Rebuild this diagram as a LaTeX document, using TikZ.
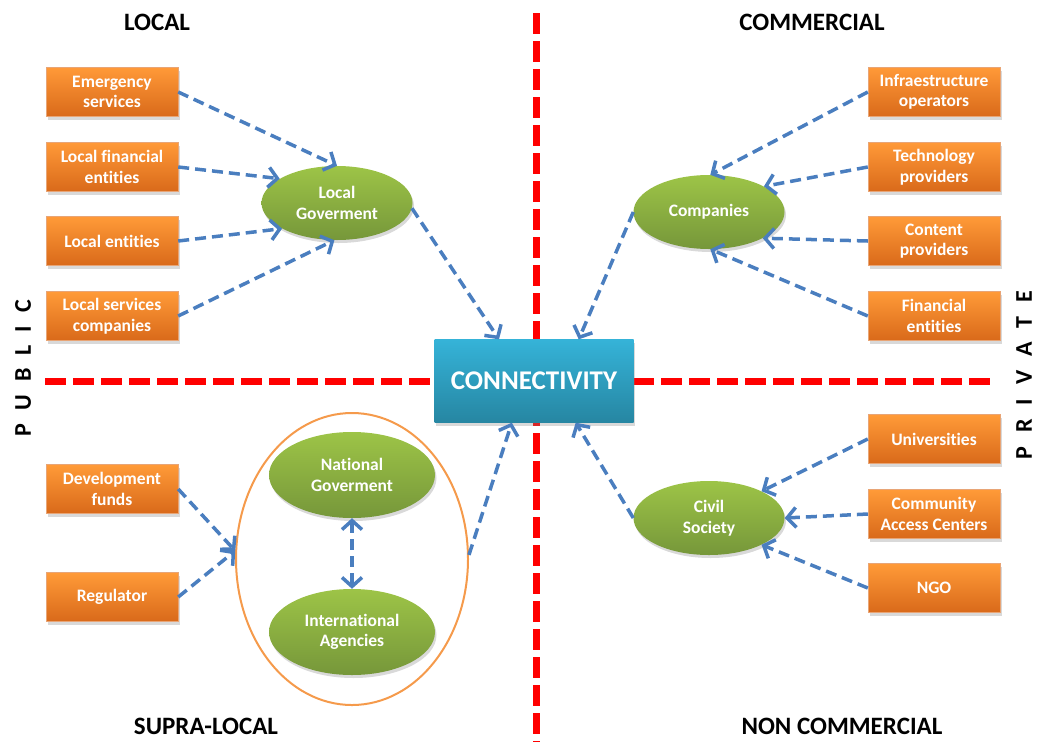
\documentclass[tikz,border=0pt]{standalone}
\usepackage{fontspec}
\setmainfont{Carlito}[Ligatures=NoCommon]
\usepackage{tikz}
\usetikzlibrary{shapes.geometric,arrows.meta,shadows}
\definecolor{orTop}{HTML}{FF9A38}
\definecolor{orBot}{HTML}{D9691A}
\definecolor{grTop}{HTML}{9DC447}
\definecolor{grBot}{HTML}{76973A}
\definecolor{cyTop}{HTML}{35B3D8}
\definecolor{cyBot}{HTML}{2686A2}
\definecolor{linkblue}{HTML}{4A7EBF}
\definecolor{ringorange}{HTML}{F59A4B}

\begin{document}
\begin{tikzpicture}[x=1pt,y=-1pt]
	\tikzstyle{actor} = [rectangle, minimum width=132pt, minimum height=49pt, inner sep=0pt, align=center, text=white, font=\fontsize{17.5}{20.5}\selectfont\bfseries, top color=orTop, bottom color=orBot, draw=orBot!60, line width=0.4pt, drop shadow={shadow xshift=1.5pt, shadow yshift=-3pt, opacity=0.3}]
	\tikzstyle{hub} = [ellipse, minimum width=151pt, minimum height=74pt, inner sep=0pt, align=center, text=white, font=\fontsize{17.5}{20.5}\selectfont\bfseries, top color=grTop, bottom color=grBot, drop shadow={shadow xshift=1.5pt, shadow yshift=-3pt, opacity=0.3}]
	\tikzstyle{link} = [draw=linkblue, line width=3.5pt, dash pattern=on 11pt off 6pt, -{Straight Barb[length=9pt,width=20pt]}]
	\tikzstyle{divider} = [draw=red, line width=7pt, dash pattern=on 21pt off 7pt]
	\tikzstyle{title} = [font=\fontsize{25}{30}\selectfont\bfseries]
\useasboundingbox (0,0) rectangle (1038,742);
\coordinate (vtop) at (536, 13);
\coordinate (vbot) at (536, 742);
\coordinate (hleft) at (45, 381);
\coordinate (hright) at (990, 381);
	\path[divider] (vtop) -- (vbot);
	\path[divider] (hleft) -- (hright);
\node[title] (local) at (157, 22) {LOCAL};
\node[title] (commercial) at (812, 22) {COMMERCIAL};
\node[title] (supra) at (206, 726) {SUPRA-LOCAL};
\node[title] (noncom) at (842, 726) {NON COMMERCIAL};
\node[title, font=\fontsize{24}{28}\selectfont\bfseries, rotate=90] (public) at (23, 368) {P\hspace{13pt}U\hspace{13pt}B\hspace{13pt}L\hspace{13pt}I\hspace{13pt}C};
\node[title, font=\fontsize{24}{28}\selectfont\bfseries, rotate=90, inner sep=0pt] (private) at (1024, 375) {P\hspace{14pt}R\hspace{14pt}I\hspace{14pt}V\hspace{14pt}A\hspace{14pt}T\hspace{14pt}E};
\node[actor] (emerg) at (112, 92) {Emergency\\services};
\node[actor] (lfin) at (112, 167) {Local financial\\entities};
\node[actor] (lent) at (112, 241) {Local entities};
\node[actor] (lserv) at (112, 316) {Local services\\companies};
\node[actor] (devf) at (112, 489) {Development\\funds};
\node[actor] (regul) at (112, 597) {Regulator};
\node[actor] (infra) at (934, 92) {Infraestructure\\operators};
\node[actor] (tech) at (934, 167) {Technology\\providers};
\node[actor] (content) at (934, 241) {Content\\providers};
\node[actor] (ffin) at (934, 316) {Financial\\entities};
\node[actor] (univ) at (934, 439) {Universities};
\node[actor] (cac) at (934, 514) {Community\\Access Centers};
\node[actor] (ngo) at (934, 588) {NGO};
\node[hub] (lgov) at (337, 203) {Local\\Goverment};
\node[hub] (comp) at (709, 212) {Companies};
\node[hub] (civil) at (709, 518) {Civil\\Society};
\node[ellipse, draw=ringorange, line width=2pt, minimum width=232pt, minimum height=292pt] (ring) at (352, 559) {};
\node[hub, minimum width=166pt, minimum height=86pt] (ngov) at (352, 475) {National\\Goverment};
\node[hub, minimum width=166pt, minimum height=86pt] (intag) at (352, 632) {International\\Agencies};
\node[rectangle, minimum width=199pt, minimum height=83pt, inner sep=0pt, text=white, font=\fontsize{27}{32}\selectfont\bfseries, top color=cyTop, bottom color=cyBot, drop shadow={shadow xshift=1.5pt, shadow yshift=-3pt, opacity=0.3}] (conn) at (534, 381) {CONNECTIVITY};
	\path[link] (emerg.east) -- (lgov.north);
	\path[link] (lfin.east) -- (lgov.157);
	\path[link] (lent.east) -- (lgov.205);
	\path[link] (lserv.east) -- (lgov.266);
	\path[link] (lgov.356) -- (conn.130);
	\path[link] (comp.west) -- (conn.43);
	\path[link] (infra.west) -- (comp.88);
	\path[link] (tech.west) -- (comp.25);
	\path[link] (content.west) -- (comp.334);
	\path[link] (ffin.west) -- (comp.272);
	\path[link] (civil.west) -- (conn.315);
	\path[link] (univ.west) -- (civil.27);
	\path[link] (cac.west) -- (civil.east);
	\path[link] (ngo.west) -- (civil.333);
	\path[link] (ring.2) -- (conn.242);
	\path[link] (devf.east) -- (ring.176);
	\path[link] (regul.east) -- (ring.176);
	\path[link, {Straight Barb[length=9pt,width=20pt]}-{Straight Barb[length=9pt,width=20pt]}] (ngov.south) -- (intag.north);
\end{tikzpicture}
\end{document}
